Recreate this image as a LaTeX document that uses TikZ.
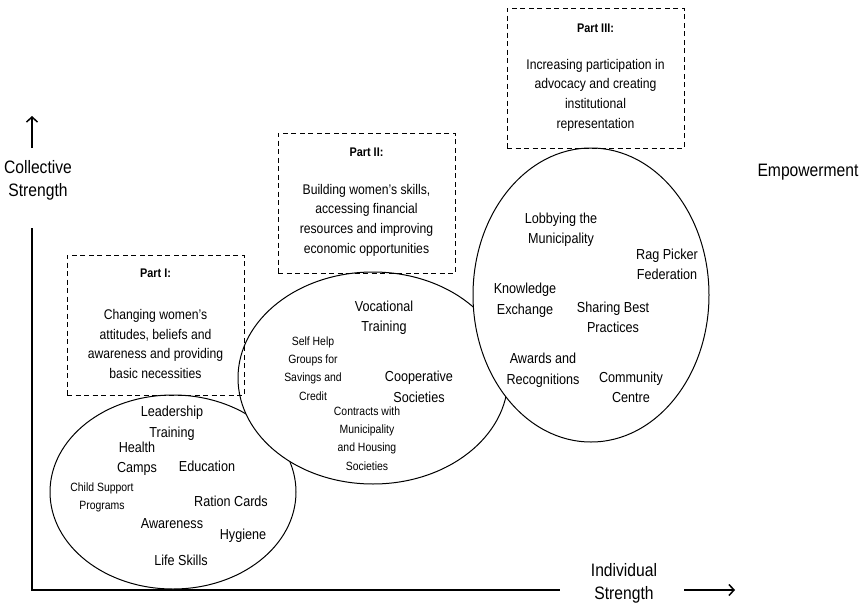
\documentclass[tikz,border=0pt]{standalone}
\usepackage{fontspec}
\setmainfont{Liberation Sans}[FakeStretch=0.87]
\usetikzlibrary{shapes.geometric,arrows.meta}
\begin{document}
\begin{tikzpicture}[x=1pt,y=-1pt,
  lbl/.style={font=\fontsize{14.5}{20.5}\selectfont,align=center,inner sep=0pt},
  sml/.style={font=\fontsize{12}{18.2}\selectfont,align=center,inner sep=0pt},
  axlbl/.style={font=\fontsize{18}{23}\selectfont,align=center,inner sep=0pt},
  boxtxt/.style={font=\fontsize{14}{19.7}\selectfont,align=center,inner sep=0pt},
  boxttl/.style={font=\fontsize{12.5}{15}\selectfont\bfseries,inner sep=0pt},
  dbox/.style={draw,line width=1pt,dash pattern=on 5pt off 3.5pt,inner sep=0pt},
  blob/.style={ellipse,draw,line width=1pt,fill=white,inner sep=0pt},
  axis/.style={line width=2pt},
  axarrow/.style={line width=1.5pt,-{Straight Barb[length=5pt,width=11pt,line width=1.5pt]}}]
\useasboundingbox (0,0) rectangle (863,608);

% axes
\coordinate (ytop) at (32,228);
\coordinate (orig) at (32,590);
\coordinate (xend) at (560,590);
\draw[axis] (ytop) -- (orig) -- (xend);
\coordinate (ua0) at (32,148);
\coordinate (ua1) at (32,116);
\draw[axarrow] (ua0) -- (ua1);
\coordinate (ra0) at (684,590);
\coordinate (ra1) at (735,590);
\draw[axarrow] (ra0) -- (ra1);

\node[axlbl] (ylab) at (38,180) {Collective\\Strength};
\node[axlbl] (xlab) at (624,583) {Individual\\Strength};
\node[axlbl] (emp) at (808,172) {Empowerment};

% ellipses
\node[blob,minimum width=246,minimum height=194] (e1) at (173,492) {};
\node[blob,minimum width=270,minimum height=212] (e2) at (373,378) {};
\node[blob,minimum width=236,minimum height=294] (e3) at (591,295) {};

% dashed boxes
\node[dbox,minimum width=177,minimum height=140] (b1) at (155.5,325) {};
\node[dbox,minimum width=177,minimum height=140] (b2) at (366.5,203) {};
\node[dbox,minimum width=177,minimum height=140] (b3) at (595.5,78) {};

\node[boxttl] (t1) at (155.5,273) {Part I:};
\node[boxtxt] (d1) at (155.5,344) {Changing women’s\\attitudes, beliefs and\\awareness and providing\\basic necessities};
\node[boxttl] (t2) at (366.5,152) {Part II:};
\node[boxtxt] (d2) at (366.5,220) {Building women’s skills,\\accessing financial\\resources and improving\\economic opportunities};
\node[boxttl] (t3) at (595.5,28) {Part III:};
\node[boxtxt] (d3) at (595.5,95) {Increasing participation in\\advocacy and creating\\institutional\\representation};

% ellipse 1 labels
\node[lbl] (lt) at (172,423) {Leadership\\Training};
\node[lbl] (hc) at (137,458.5) {Health\\Camps};
\node[lbl] (edu) at (207,466) {Education};
\node[sml] (csp) at (102,497.5) {Child Support\\Programs};
\node[lbl] (rc) at (231,501) {Ration Cards};
\node[lbl] (aw) at (172,524) {Awareness};
\node[lbl] (hy) at (243,536) {Hygiene};
\node[lbl] (ls) at (181,560) {Life Skills};

% ellipse 2 labels
\node[lbl] (vt) at (384,317.5) {Vocational\\Training};
\node[sml] (shg) at (313,368.5) {Self Help\\Groups for\\Savings and\\Credit};
\node[lbl] (cs) at (419,387) {Cooperative\\Societies};
\node[sml] (cm) at (367,438.5) {Contracts with\\Municipality\\and Housing\\Societies};

% ellipse 3 labels
\node[lbl] (lm) at (561,229.5) {Lobbying the\\Municipality};
\node[lbl] (rp) at (667,264.5) {Rag Picker\\Federation};
\node[lbl] (ke) at (525,300) {Knowledge\\Exchange};
\node[lbl] (sb) at (613,317.5) {Sharing Best\\Practices};
\node[lbl] (ar) at (543,370) {Awards and\\Recognitions};
\node[lbl] (cc) at (631,387.5) {Community\\Centre};
\end{tikzpicture}
\end{document}
